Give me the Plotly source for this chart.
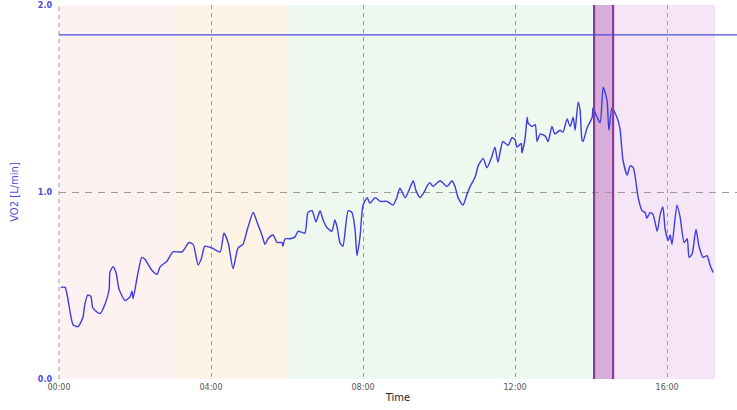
import plotly.graph_objects as go

# Time in minutes, VO2 in L/min
time_min = [0.05,0.16,0.37,0.50,0.63,0.68,0.76,0.84,0.89,1.08,1.21,1.32,1.34,1.42,1.50,1.58,1.74,1.87,1.92,1.95,
            2.08,2.18,2.26,2.45,2.58,2.66,2.84,3.00,3.24,3.42,3.53,3.66,3.74,3.84,4.03,4.24,4.34,4.45,4.58,4.71,
            4.84,4.89,4.97,5.11,5.21,5.34,5.42,5.50,5.63,5.74,5.87,5.89,5.95,6.08,6.21,6.29,6.47,6.55,6.66,6.76,
            6.87,6.95,7.05,7.18,7.26,7.32,7.39,7.47,7.61,7.71,7.79,7.84,7.92,8.00,8.11,8.18,8.32,8.45,8.63,8.79,
            8.89,8.97,9.11,9.21,9.32,9.39,9.50,9.61,9.68,9.76,9.84,10.03,10.21,10.34,10.42,10.50,10.63,10.74,10.82,10.95,
            11.03,11.16,11.26,11.39,11.47,11.55,11.68,11.82,11.92,12.00,12.05,12.16,12.18,12.26,12.32,12.34,12.45,12.53,12.58,12.66,
            12.79,12.87,12.97,13.05,13.18,13.26,13.37,13.45,13.53,13.58,13.66,13.71,13.76,13.79,13.89,14.03,14.05,14.16,14.24,14.32,
            14.42,14.47,14.55,14.68,14.76,14.84,14.95,15.03,15.11,15.24,15.34,15.42,15.47,15.55,15.63,15.74,15.82,15.89,15.95,16.03,
            16.08,16.13,16.26,16.34,16.45,16.53,16.58,16.66,16.76,16.84,16.95,17.05,17.13,17.21]
vo2 = [0.49,0.49,0.29,0.28,0.33,0.40,0.45,0.44,0.38,0.35,0.40,0.48,0.57,0.60,0.57,0.48,0.42,0.44,0.47,0.43,
       0.57,0.65,0.64,0.58,0.56,0.60,0.63,0.68,0.68,0.73,0.72,0.61,0.64,0.71,0.70,0.68,0.78,0.73,0.59,0.70,
       0.72,0.75,0.81,0.89,0.84,0.77,0.72,0.75,0.77,0.73,0.73,0.71,0.75,0.75,0.76,0.79,0.78,0.89,0.90,0.84,
       0.90,0.85,0.81,0.79,0.85,0.81,0.73,0.71,0.90,0.89,0.80,0.66,0.76,0.93,0.97,0.94,0.97,0.95,0.95,0.93,
       0.97,1.02,0.97,1.01,1.06,1.01,0.97,1.00,1.03,1.05,1.03,1.06,1.03,1.06,1.03,0.97,0.93,0.99,1.03,1.08,
       1.14,1.18,1.13,1.19,1.24,1.16,1.27,1.25,1.29,1.28,1.24,1.26,1.21,1.28,1.40,1.37,1.35,1.36,1.27,1.31,
       1.30,1.27,1.35,1.31,1.33,1.32,1.39,1.35,1.40,1.33,1.48,1.44,1.28,1.27,1.34,1.40,1.45,1.40,1.37,1.56,
       1.49,1.33,1.45,1.40,1.34,1.17,1.09,1.14,1.13,0.97,0.90,0.89,0.86,0.89,0.88,0.79,0.88,0.92,0.80,0.74,
       0.77,0.72,0.93,0.87,0.73,0.75,0.65,0.67,0.80,0.71,0.65,0.66,0.61,0.57]

# Phase zones (minutes)
zone_start = [0.0, 3.0, 6.0, 14.08, 14.58]
zone_end = [3.0, 6.0, 14.08, 14.58, 17.26]
zone_color = ["#fdf1f1", "#fdf4e6", "#eef8ee", "#d9aedb", "#f5e5f6"]

ref_vo2 = 1.84
x_max = 17.84

tick_vals = [0, 4, 8, 12, 16]
tick_text = ["00:00", "04:00", "08:00", "12:00", "16:00"]
y_tick_vals = [0, 1, 2]
y_tick_text = ["0.0", "1.0", "2.0"]

fig = go.Figure()

for s, e, c in zip(zone_start, zone_end, zone_color):
    fig.add_vrect(x0=s, x1=e, fillcolor=c, opacity=1, line_width=0, layer="below")

# Dashed left border of the plot area
fig.add_shape(type="line", xref="paper", yref="paper", x0=0, x1=0, y0=0, y1=1,
              line=dict(color="#9a9a9a", width=1, dash="4px,4px"), layer="above")

# Dark purple edges of the highlighted band
for xv in (zone_start[3], zone_end[3]):
    fig.add_vline(x=xv, line=dict(color="#8a3d98", width=2.2), layer="above")

fig.add_hline(y=ref_vo2, line=dict(color="#4a4ae0", width=1.2))

fig.add_trace(go.Scatter(x=time_min, y=vo2, mode="lines",
                         line=dict(color="#3c3ce0", width=1.4, shape="spline", smoothing=0.6),
                         showlegend=False, hoverinfo="skip"))

fig.update_layout(
    width=737, height=410,
    margin=dict(l=59, r=0, t=5, b=31),
    paper_bgcolor="white", plot_bgcolor="white",
    font=dict(family="DejaVu Sans", size=8),
    xaxis=dict(range=[0, x_max], tickvals=tick_vals, ticktext=tick_text,
               showgrid=True, gridcolor="#9a9a9a", griddash="4px,4px", gridwidth=1,
               zeroline=False, showline=False, ticks="", ticklabelstandoff=2,
               tickfont=dict(size=8, color="#555555"),
               title=dict(text="Time", font=dict(size=10, color="#222222"), standoff=2)),
    yaxis=dict(range=[0, 2], tickvals=y_tick_vals, ticktext=y_tick_text,
               showgrid=True, gridcolor="#9a9a9a", griddash="7px,6px", gridwidth=1,
               zeroline=False, showline=False, ticks="", ticklabelstandoff=6,
               tickfont=dict(size=8, color="#4a4ae0", family="DejaVu Sans", weight="bold"),
               title=dict(text="VO2 [L/min]", font=dict(size=10, color="#4a4ae0"), standoff=17)),
)

fig.write_html("out.html")
